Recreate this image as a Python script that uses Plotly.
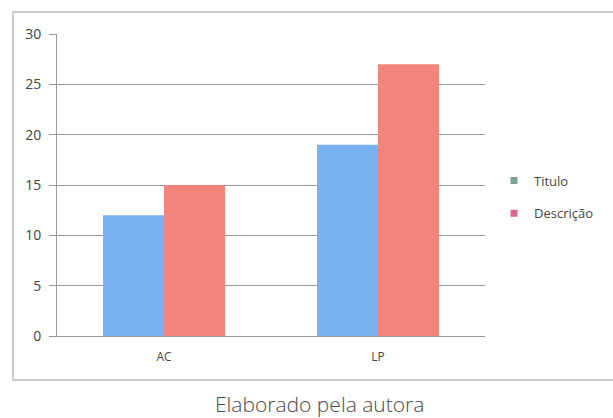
import plotly.graph_objects as go

categories = ["AC", "LP"]
titulo = [12, 19]
descricao = [15, 27]
series_names = ["Titulo", "Descrição"]

L, R, T, B = 57, 128, 34, 82
W, H = 613, 418
pw = W - L - R
ph = H - T - B

def px_x(x):
    return (x - L) / pw

def px_y(y):
    return (H - B - y) / ph

fig = go.Figure()
fig.add_trace(go.Bar(x=categories, y=titulo, name=series_names[0], showlegend=False,
                     marker=dict(color="#7ab2f1", line=dict(width=0))))
fig.add_trace(go.Bar(x=categories, y=descricao, name=series_names[1], showlegend=False,
                     marker=dict(color="#f2847b", line=dict(width=0))))
# legend entries
fig.add_trace(go.Scatter(x=[None], y=[None], mode="markers", name=series_names[0],
                         legendgroup="a",
                         marker=dict(symbol="square", size=7, color="#80a096")))
fig.add_trace(go.Scatter(x=[None], y=[None], mode="markers", name=series_names[1],
                         legendgroup="b",
                         marker=dict(symbol="square", size=7, color="#d66a86")))

fig.update_layout(
    width=W, height=H,
    margin=dict(l=L, r=R, t=T, b=B, autoexpand=False),
    paper_bgcolor="white", plot_bgcolor="white",
    barmode="group", bargap=0.43, bargroupgap=0,
    font=dict(family="Open Sans, DejaVu Sans, sans-serif", size=13, color="#444"),
    showlegend=True,
    legend=dict(x=px_x(494), y=px_y(197), xanchor="left", yanchor="middle",
                font=dict(size=13, color="#444"), itemwidth=30,
                traceorder="grouped", tracegroupgap=13, bgcolor="rgba(0,0,0,0)"),
    xaxis=dict(showline=True, linecolor="#999", linewidth=1, ticks="",
               showgrid=False, tickfont=dict(size=12, color="#444"), ticklabelstandoff=10),
    yaxis=dict(range=[0, 30], dtick=5, showline=True, linecolor="#999", linewidth=1,
               ticks="outside", ticklen=7, tickcolor="#999", ticklabelstandoff=5,
               showgrid=True, gridcolor="#9a9a9a", gridwidth=1, zeroline=False,
               tickfont=dict(size=14, color="#444")),
    shapes=[dict(type="rect", xref="paper", yref="paper",
                 x0=px_x(13), x1=px_x(640), y0=px_y(380), y1=px_y(12),
                 line=dict(color="#cccccc", width=2), layer="below")],
    annotations=[dict(text="Elaborado pela autora", xref="paper", yref="paper",
                      x=px_x(319), y=px_y(404), xanchor="center", yanchor="middle",
                      showarrow=False,
                      font=dict(family="Open Sans, sans-serif", size=21, color="#4a4a4a", weight=300))],
)

fig.write_html("out.html")
